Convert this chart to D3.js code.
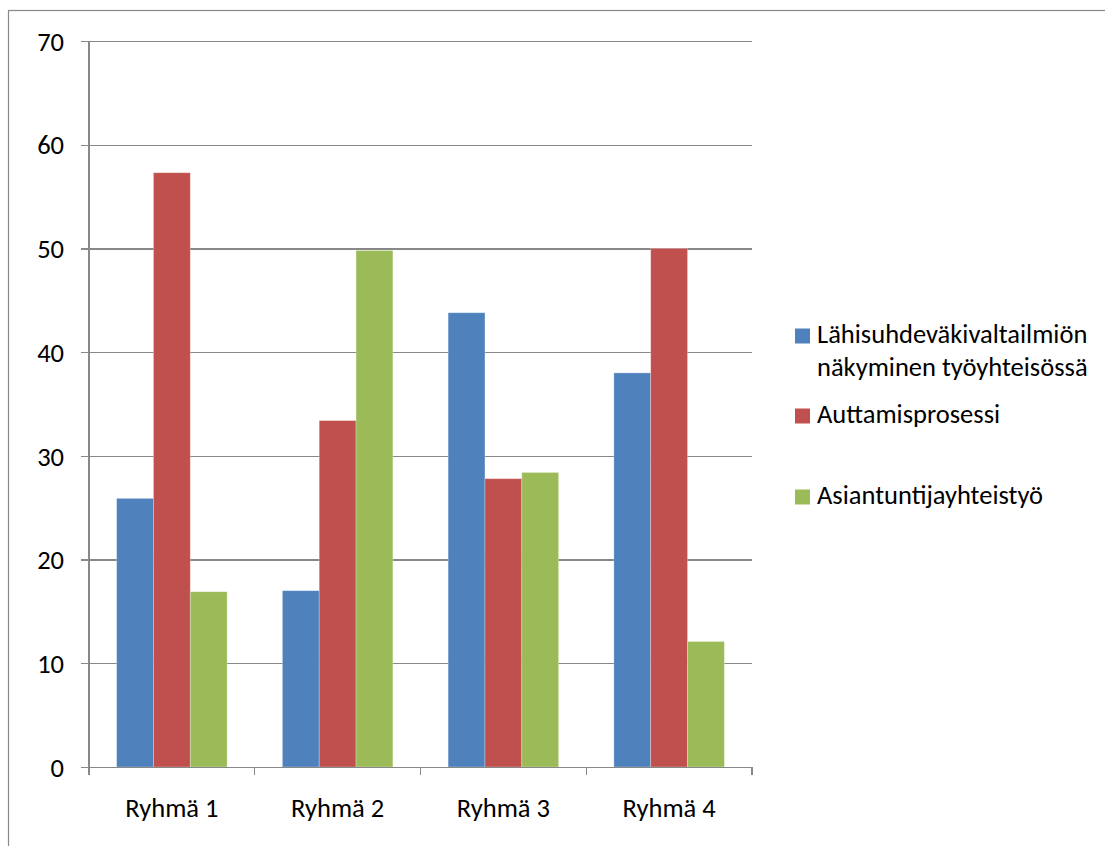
<!DOCTYPE html>
<html>
<head>
<meta charset="utf-8">
<script src="https://cdn.jsdelivr.net/npm/d3@7"></script>
<style>
  html, body { margin: 0; padding: 0; background: #fff; }
  svg { display: block; }
  text { font-family: Carlito, Calibri, Lato, "Open Sans", sans-serif; fill: #000; }
</style>
</head>
<body>
<svg id="chart" width="1105" height="846"></svg>
<script>
// Groups and series
const categories = ["Ryhmä 1", "Ryhmä 2", "Ryhmä 3", "Ryhmä 4"];
const seriesNames = [
  ["Lähisuhdeväkivaltailmiön", "näkyminen työyhteisössä"],
  ["Auttamisprosessi"],
  ["Asiantuntijayhteistyö"]
];
const lahisuhde = [25.9, 17.0, 43.8, 38.0];
const auttaminen = [57.3, 33.4, 27.8, 50.0];
const asiantuntija = [16.9, 49.8, 28.4, 12.1];
const yTicks = [0, 10, 20, 30, 40, 50, 60, 70];
const colors = ["#4F81BD", "#C0504D", "#9BBB59"];

const values = [lahisuhde, auttaminen, asiantuntija];
const svg = d3.select("#chart");
const fontSize = 26.5;

// chart frame
svg.append("rect")
  .attr("x", 8.5).attr("y", 10.5)
  .attr("width", 1200).attr("height", 900)
  .attr("fill", "none").attr("stroke", "#898989").attr("stroke-width", 1.2);

const plotL = 89, plotR = 752, plotT = 41, plotB = 767;

const y = d3.scaleLinear().domain([0, 70]).range([plotB, plotT]);
const x0 = d3.scaleBand().domain(categories).range([plotL, plotR]).paddingInner(0).paddingOuter(0);
const x1 = d3.scaleBand().domain([0, 1, 2]).range([0, x0.bandwidth()]).paddingInner(0).paddingOuter(0.75);

// horizontal gridlines with tick stubs
const yAxis = d3.axisLeft(y).tickValues(yTicks).tickSize(-(plotR - plotL)).tickPadding(0).tickFormat("");
const gy = svg.append("g").attr("transform", `translate(${plotL},0)`).call(yAxis);
gy.select(".domain").remove();
gy.selectAll(".tick line").attr("stroke", "#888").attr("stroke-width", 1.2).attr("x1", -8).attr("shape-rendering", "crispEdges");
gy.selectAll(".tick").append("text")
  .attr("x", -25).attr("dy", "0.35em")
  .attr("text-anchor", "end")
  .style("font-size", fontSize + "px")
  .text(d => d);

// bars
const groups = svg.append("g").selectAll("g")
  .data(categories)
  .join("g")
  .attr("transform", d => `translate(${x0(d)},0)`);

groups.selectAll("rect")
  .data((c, i) => values.map((s, k) => ({ k, v: s[i] })))
  .join("rect")
  .attr("x", d => x1(d.k))
  .attr("width", x1.bandwidth())
  .attr("y", d => y(d.v))
  .attr("height", d => y(0) - y(d.v))
  .attr("fill", d => colors[d.k])
  .attr("stroke", "rgba(255,255,255,0.35)")
  .attr("stroke-width", 0.8);

// vertical axis line
svg.append("line")
  .attr("x1", plotL).attr("x2", plotL).attr("y1", plotT).attr("y2", plotB)
  .attr("stroke", "#888").attr("stroke-width", 1.2).attr("shape-rendering", "crispEdges");

// category axis
const xAxis = d3.axisBottom(x0).tickSize(0).tickPadding(0);
const gx = svg.append("g").attr("transform", `translate(0,${plotB})`).call(xAxis);
gx.select(".domain").attr("stroke", "#888").attr("stroke-width", 1.2).attr("shape-rendering", "crispEdges");
gx.selectAll(".tick text")
  .attr("y", 50).attr("dy", 0)
  .style("font-size", fontSize + "px")
  .attr("fill", "#000");
// boundary tick marks between categories
const bounds = categories.map(c => x0(c)).concat([plotR]);
gx.selectAll(".bound")
  .data(bounds)
  .join("line")
  .attr("class", "bound")
  .attr("x1", d => d).attr("x2", d => d)
  .attr("y1", 0).attr("y2", 8)
  .attr("stroke", "#888").attr("stroke-width", 1.2).attr("shape-rendering", "crispEdges");

// legend
const legend = svg.append("g");
const legendRows = [333, 413, 494];
seriesNames.forEach((lines, k) => {
  const yy = legendRows[k];
  legend.append("rect")
    .attr("x", 795).attr("y", yy - 4.5)
    .attr("width", 15).attr("height", 15)
    .attr("fill", colors[k]);
  lines.forEach((t, j) => {
    legend.append("text")
      .attr("x", 817).attr("y", yy + 9.5 + j * 33)
      .style("font-size", fontSize + "px")
      .text(t);
  });
});
</script>
</body>
</html>
